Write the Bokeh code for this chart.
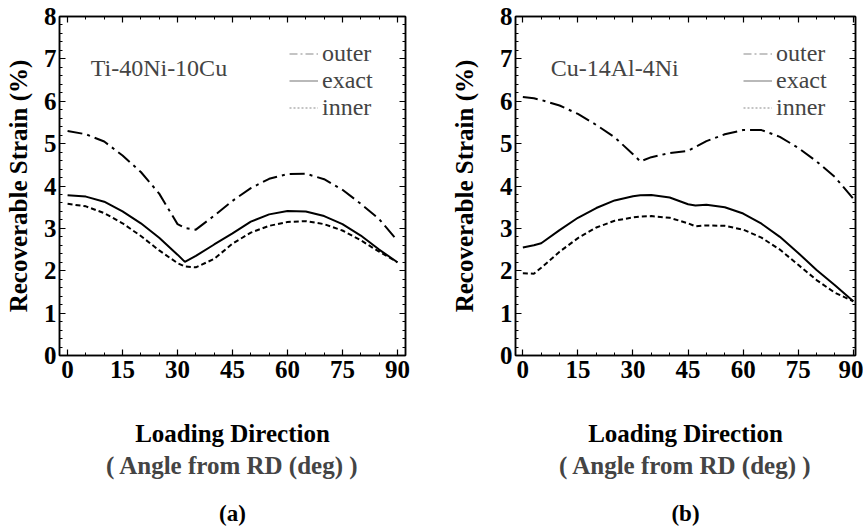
from bokeh.plotting import figure
from bokeh.layouts import row
from bokeh.models import (Range1d, LinearAxis, SingleIntervalTicker, FixedTicker, Label,
                          Legend, LegendItem, Title, CustomJSTickFormatter)
from bokeh.embed import file_html
from bokeh.resources import INLINE

# ---------------- data ----------------
angle_a = [0, 5, 10, 15, 20, 25, 30, 32, 35, 40, 45, 50, 55, 60, 65, 70, 75, 80, 85, 90]
outer_a = [5.30, 5.22, 5.05, 4.72, 4.33, 3.82, 3.10, 3.01, 2.97, 3.30, 3.65, 3.95, 4.17,
           4.28, 4.29, 4.16, 3.91, 3.58, 3.22, 2.71]
exact_a = [3.78, 3.75, 3.63, 3.40, 3.12, 2.78, 2.38, 2.21, 2.35, 2.62, 2.88, 3.16, 3.33,
           3.41, 3.40, 3.29, 3.10, 2.83, 2.50, 2.20]
inner_a = [3.58, 3.52, 3.36, 3.12, 2.82, 2.48, 2.18, 2.10, 2.08, 2.28, 2.64, 2.90, 3.06,
           3.15, 3.17, 3.10, 2.95, 2.72, 2.45, 2.20]

angle_b = [0, 3, 5, 10, 15, 20, 25, 30, 32, 35, 40, 45, 47, 50, 55, 60, 65, 70, 75, 80, 85, 90]
outer_b = [6.10, 6.07, 6.03, 5.90, 5.70, 5.44, 5.15, 4.75, 4.58, 4.68, 4.78, 4.83, 4.92,
           5.06, 5.22, 5.32, 5.32, 5.16, 4.90, 4.58, 4.21, 3.70]
exact_b = [2.55, 2.60, 2.65, 2.96, 3.25, 3.48, 3.66, 3.76, 3.78, 3.79, 3.73, 3.57, 3.54,
           3.56, 3.50, 3.35, 3.11, 2.80, 2.42, 2.02, 1.66, 1.28]
inner_b = [1.94, 1.93, 2.07, 2.45, 2.77, 3.02, 3.18, 3.26, 3.28, 3.29, 3.25, 3.12, 3.05,
           3.07, 3.06, 2.97, 2.78, 2.50, 2.14, 1.78, 1.48, 1.28]

series_names = ["outer", "exact", "inner"]
alloy_names = ["Ti-40Ni-10Cu", "Cu-14Al-4Ni"]
panel_tags = ["(a)", "(b)"]
x_label_1 = "Loading Direction"
x_label_2 = "( Angle from RD (deg) )"
y_label = "Recoverable Strain (%)"

SERIF = "Liberation Serif"
DASH = {"outer": "15 5 3 5", "exact": "solid", "inner": "5 3"}
LEG_DASH = {"outer": "8 3 2 3", "exact": "solid", "inner": "2 2"}


def style_axis(ax, labels=True):
    ax.axis_line_width = 1.5
    ax.axis_line_color = "black"
    ax.major_tick_in = 6
    ax.major_tick_out = 0
    ax.minor_tick_in = 3
    ax.minor_tick_out = 0
    ax.major_tick_line_width = 1.2
    ax.minor_tick_line_width = 1
    if labels:
        ax.major_label_text_font = SERIF
        ax.major_label_text_font_style = "bold"
        ax.major_label_text_font_size = "25px"
        ax.major_label_text_color = "black"
        ax.axis_label_text_font = SERIF
        ax.axis_label_text_font_style = "bold"
        ax.axis_label_text_font_size = "25px"
        ax.axis_label_text_color = "black"
    else:
        ax.formatter = CustomJSTickFormatter(code="return ''")
        ax.major_label_text_font_size = "1px"
        ax.major_label_standoff = 0


def make_panel(angles, outer, exact, inner, alloy, tag, xr, width, bl, br,
               ylab_standoff, alloy_x, leg_x):
    p = figure(width=width, height=532, x_range=Range1d(*xr), y_range=Range1d(0, 8),
               output_backend="svg", toolbar_location=None,
               min_border_left=bl, min_border_right=br, min_border_top=16,
               min_border_bottom=177, x_axis_label=x_label_1, y_axis_label=y_label)
    p.xgrid.visible = False
    p.ygrid.visible = False
    p.outline_line_color = "black"
    p.outline_line_width = 1.5
    p.background_fill_color = "white"
    p.border_fill_color = "white"

    p.xaxis.ticker = SingleIntervalTicker(interval=15, num_minor_ticks=3)
    p.yaxis.ticker = SingleIntervalTicker(interval=1, num_minor_ticks=5)
    style_axis(p.xaxis[0])
    style_axis(p.yaxis[0])
    p.xaxis.major_label_standoff = 5
    p.xaxis.axis_label_standoff = 39
    p.yaxis.major_label_standoff = 3
    p.yaxis.axis_label_standoff = ylab_standoff

    top = LinearAxis(ticker=SingleIntervalTicker(interval=15, num_minor_ticks=3))
    style_axis(top, labels=False)
    p.add_layout(top, "above")
    right = LinearAxis(ticker=SingleIntervalTicker(interval=1, num_minor_ticks=5))
    style_axis(right, labels=False)
    p.add_layout(right, "right")

    for name, vals in zip(series_names, [outer, exact, inner]):
        p.line(angles, vals, color="black", line_width=2, line_dash=DASH[name])

    # legend proxies (hidden renderers, only their legend sample is drawn)
    items = []
    for name, vals in zip(series_names, [outer, exact, inner]):
        r = p.line(angles, vals, color="#8a8a8a", line_width=1.2,
                   line_dash=LEG_DASH[name], visible=False)
        items.append(LegendItem(label=name, renderers=[r]))
    leg = Legend(items=items, location=(leg_x, 234), label_text_font=SERIF,
                 label_text_font_size="24px", glyph_width=29, glyph_height=27,
                 label_height=27, label_standoff=4, spacing=0, padding=0, margin=0,
                 border_line_color=None, background_fill_alpha=0, click_policy="none")
    p.add_layout(leg)

    p.add_layout(Label(x=alloy_x, y=6.79, text=alloy, text_font=SERIF,
                       text_font_size="24px", text_baseline="alphabetic"))

    p.add_layout(Title(text=x_label_2, align="center", text_font=SERIF,
                       text_font_size="25px", text_font_style="bold", standoff=0), "below")

    # panel tag as the label of a tick-less axis at the very bottom
    tag_axis = LinearAxis(ticker=FixedTicker(ticks=[]), axis_label=tag,
                          axis_line_color=None, major_tick_line_color=None,
                          minor_tick_line_color=None, major_label_standoff=0,
                          major_tick_out=0, minor_tick_out=0,
                          axis_label_standoff=22, axis_label_text_font=SERIF,
                          axis_label_text_font_size="23px",
                          axis_label_text_font_style="bold",
                          axis_label_text_color="black")
    p.add_layout(tag_axis, "below")
    return p


pa = make_panel(angle_a, outer_a, exact_a, inner_a, alloy_names[0], panel_tags[0],
                (-2.2, 92.2), 431, 59, 26, 9, 6.3, 230)
pb = make_panel(angle_b, outer_b, exact_b, inner_b, alloy_names[1], panel_tags[1],
                (-2.0, 90.6), 432, 84, 8, 19, 7.6, 228)

layout = row(pa, pb)
open("out.html", "w").write(file_html(layout, INLINE))
